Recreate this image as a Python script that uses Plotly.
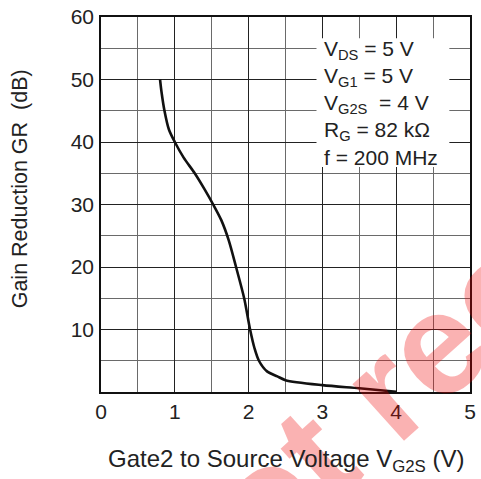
import plotly.graph_objects as go

# Data
vg2s = [0.80, 0.82, 0.86, 0.92, 1.00, 1.12, 1.27, 1.40, 1.52, 1.63, 1.73, 1.83, 1.94, 2.02, 2.08, 2.14, 2.25, 2.39, 2.50, 3.00, 3.50, 4.00]
gr_db = [50.0, 48.0, 45.0, 42.0, 40.0, 37.5, 35.0, 32.5, 30.0, 27.5, 24.3, 20.0, 15.0, 10.0, 7.0, 5.0, 3.3, 2.5, 1.9, 1.1, 0.6, 0.05]

x_ticks = [0, 1, 2, 3, 4, 5]
y_ticks = [10, 20, 30, 40, 50, 60]

params = ["V<sub>DS</sub> = 5 V", "V<sub>G1</sub> = 5 V", "V<sub>G2S</sub>  = 4 V",
          "R<sub>G</sub> = 82 kΩ", "f = 200 MHz"]
param_y = [54.7, 50.4, 46.1, 41.8, 37.5]

FONT = "Liberation Sans, Arial, sans-serif"
GRID = "#222222"
MINOR = "#6a6a6a"
TXT = "#222222"

W, H = 481, 479
PL, PR, PT, PB = 101, 476, 17, 392  # plot area in window pixels

def px(xw):
    return (xw - PL) / (PR - PL)

def py(yw):
    return (PB - yw) / (PB - PT)

fig = go.Figure()
fig.add_trace(go.Scatter(x=vg2s, y=gr_db, mode="lines",
                         line=dict(color="#111111", width=2.6, shape="spline", smoothing=0.8),
                         hoverinfo="skip", showlegend=False))

fig.update_layout(
    width=W, height=H,
    margin=dict(l=PL, r=W - PR, t=PT, b=H - PB),
    paper_bgcolor="white", plot_bgcolor="white",
    font=dict(family=FONT, size=21, color=TXT),
    showlegend=False,
    xaxis=dict(range=[0, 5], tickvals=x_ticks, ticktext=[str(v) for v in x_ticks],
               showgrid=True, gridcolor=GRID, gridwidth=1,
               minor=dict(dtick=0.5, showgrid=True, gridcolor=MINOR, gridwidth=1),
               showline=True, linecolor="#111111", linewidth=1.5, mirror=True,
               zeroline=False, ticks="", ticklabelstandoff=0,
               tickfont=dict(size=21, color=TXT), fixedrange=True),
    yaxis=dict(range=[0, 60], tickvals=y_ticks, ticktext=[str(v) for v in y_ticks],
               showgrid=True, gridcolor=GRID, gridwidth=1,
               minor=dict(dtick=5, showgrid=True, gridcolor=MINOR, gridwidth=1),
               showline=True, linecolor="#111111", linewidth=1.5, mirror=True,
               zeroline=False, ticks="", ticklabelstandoff=1,
               tickfont=dict(size=21, color=TXT), fixedrange=True),
)

# watermark
fig.add_annotation(x=px(635), y=py(173), xref="paper", yref="paper",
                   text="<b>Not recommended</b>", showarrow=False, textangle=-42,
                   xanchor="center", yanchor="middle",
                   font=dict(family=FONT, size=145, color="rgba(240,0,0,0.3)"))

# white box behind the parameters
fig.add_shape(type="rect", xref="x", yref="y", x0=2.92, x1=4.72, y0=36.0, y1=56.6,
              fillcolor="white", line=dict(width=0), layer="above")

for txt, yy in zip(params, param_y):
    fig.add_annotation(x=2.99, y=yy, xref="x", yref="y", text=txt, showarrow=False,
                       xanchor="left", yanchor="middle",
                       font=dict(family=FONT, size=21, color=TXT))

# axis titles
fig.add_annotation(x=px(289), y=py(460), xref="paper", yref="paper",
                   text="Gate2 to Source Voltage V<sub>G2S</sub> (V)", showarrow=False,
                   xanchor="center", yanchor="middle",
                   font=dict(family=FONT, size=24, color=TXT))
fig.add_annotation(x=px(19), y=py(189), xref="paper", yref="paper",
                   text="Gain Reduction GR  (dB)", showarrow=False, textangle=-90,
                   xanchor="center", yanchor="middle",
                   font=dict(family=FONT, size=21.5, color=TXT))

# the page body has a default 8px margin; remove it so the figure sits at the window origin
fig.write_html("out.html", config={"displayModeBar": False},
               post_script="document.body.style.margin='0px';")
